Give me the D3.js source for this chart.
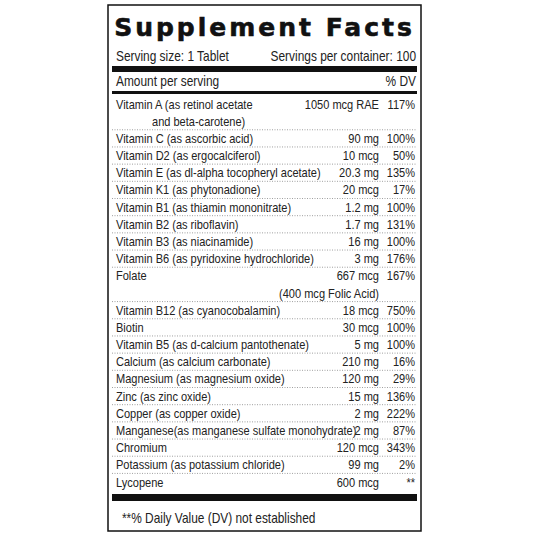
<!DOCTYPE html>
<html><head><meta charset="utf-8">
<script src="https://cdn.jsdelivr.net/npm/d3@7"></script>
<style>body{margin:0;background:#fff}</style>
</head><body>
<script>
var names = ["Vitamin A (as retinol acetate", "Vitamin C (as ascorbic acid)", "Vitamin D2 (as ergocalciferol)",
  "Vitamin E (as dl-alpha tocopheryl acetate)", "Vitamin K1 (as phytonadione)", "Vitamin B1 (as thiamin mononitrate)",
  "Vitamin B2 (as riboflavin)", "Vitamin B3 (as niacinamide)", "Vitamin B6 (as pyridoxine hydrochloride)", "Folate",
  "Vitamin B12 (as cyanocobalamin)", "Biotin", "Vitamin B5 (as d-calcium pantothenate)", "Calcium (as calcium carbonate)",
  "Magnesium (as magnesium oxide)", "Zinc (as zinc oxide)", "Copper (as copper oxide)",
  "Manganese(as manganese sulfate monohydrate)", "Chromium", "Potassium (as potassium chloride)", "Lycopene"];
var amounts = ["1050 mcg RAE", "90 mg", "10 mcg", "20.3 mg", "20 mcg", "1.2 mg", "1.7 mg", "16 mg", "3 mg", "667 mcg",
  "18 mcg", "30 mcg", "5 mg", "210 mg", "120 mg", "15 mg", "2 mg", "2 mg", "120 mcg", "99 mg", "600 mcg"];
var dvs = ["117%", "100%", "50%", "135%", "17%", "100%", "131%", "100%", "176%", "167%", "750%", "100%", "100%",
  "16%", "29%", "136%", "222%", "87%", "343%", "2%", "**"];
var secondLines = {0: "and beta-carotene)", 9: "(400 mcg Folic Acid)"};

var W = 533, H = 533, L = 108, R = 421, sx = 0.85;
var svg = d3.select("body").append("svg").attr("width", W).attr("height", H)
  .style("font-family", "'Liberation Sans',Arial,sans-serif");

svg.append("rect").attr("x", L).attr("y", 5).attr("width", R - L).attr("height", 526)
  .attr("fill", "none").attr("stroke", "#111").attr("stroke-width", 1.5);

svg.append("text").attr("x", (L + R) / 2).attr("y", 36).attr("text-anchor", "middle")
  .attr("font-family", "'DejaVu Sans',Arial,sans-serif").attr("font-weight", "bold")
  .attr("font-size", 25).attr("letter-spacing", 3).attr("fill", "#111").attr("stroke", "#111").attr("stroke-width", 0.6)
  .text("Supplement Facts");

// condensed text layer
var t = svg.append("g").attr("transform", "scale(" + sx + ",1)");
function tx(x) { return x / sx; }

var small = 14;
t.append("text").attr("x", tx(116)).attr("y", 61).attr("font-size", small).attr("fill", "#222").text("Serving size: 1 Tablet");
t.append("text").attr("x", tx(416)).attr("y", 61).attr("text-anchor", "end").attr("font-size", small).attr("fill", "#222").text("Servings per container: 100");
svg.append("rect").attr("x", 112).attr("y", 66).attr("width", 305).attr("height", 6).attr("fill", "#111");
t.append("text").attr("x", tx(116)).attr("y", 86).attr("font-size", small).attr("fill", "#222").text("Amount per serving");
t.append("text").attr("x", tx(416)).attr("y", 86).attr("text-anchor", "end").attr("font-size", small).attr("fill", "#222").text("% DV");
svg.append("rect").attr("x", 112).attr("y", 91).attr("width", 305).attr("height", 3).attr("fill", "#111");

var lineIdx = [], n = 0;
names.forEach(function (d, i) { lineIdx.push(n); n += secondLines[i] ? 2 : 1; });
var y = d3.scaleLinear().domain([0, n - 1]).range([104, 482]);
var step = y(1) - y(0);
var fs = 13;

var rows = t.selectAll(".row").data(names).enter().append("g").attr("class", "row")
  .attr("transform", function (d, i) { return "translate(0," + y(lineIdx[i]) + ")"; });
rows.append("text").attr("x", tx(116)).attr("dy", "0.35em").attr("font-size", fs).attr("fill", "#222").text(function (d) { return d; });
rows.append("text").attr("x", tx(379)).attr("dy", "0.35em").attr("text-anchor", "end").attr("font-size", fs).attr("fill", "#222")
  .text(function (d, i) { return amounts[i]; });
rows.append("text").attr("x", tx(415)).attr("dy", "0.35em").attr("text-anchor", "end").attr("font-size", fs).attr("fill", "#222")
  .text(function (d, i) { return dvs[i]; });
rows.filter(function (d, i) { return secondLines[i]; }).append("text")
  .attr("x", function (d) { return names.indexOf(d) === 0 ? tx(152) : tx(379); })
  .attr("y", step).attr("dy", "0.35em")
  .attr("text-anchor", function (d) { return names.indexOf(d) === 0 ? "start" : "end"; })
  .attr("font-size", fs).attr("fill", "#222")
  .text(function (d) { return secondLines[names.indexOf(d)]; });

var lines = svg.selectAll(".sep").data(names.slice(0, -1)).enter().append("line").attr("class", "sep")
  .attr("x1", 112).attr("x2", 417)
  .attr("y1", function (d, i) { return y(lineIdx[i + 1]) - step / 2; })
  .attr("y2", function (d, i) { return y(lineIdx[i + 1]) - step / 2; })
  .attr("stroke", "#888").attr("stroke-width", 0.8).attr("stroke-dasharray", "1,1.5");

svg.append("rect").attr("x", 112).attr("y", 494).attr("width", 305).attr("height", 7).attr("fill", "#111");
t.append("text").attr("x", tx(122)).attr("y", 523).attr("font-size", 14).attr("fill", "#222").text("**% Daily Value (DV) not established");
</script>
</body></html>
